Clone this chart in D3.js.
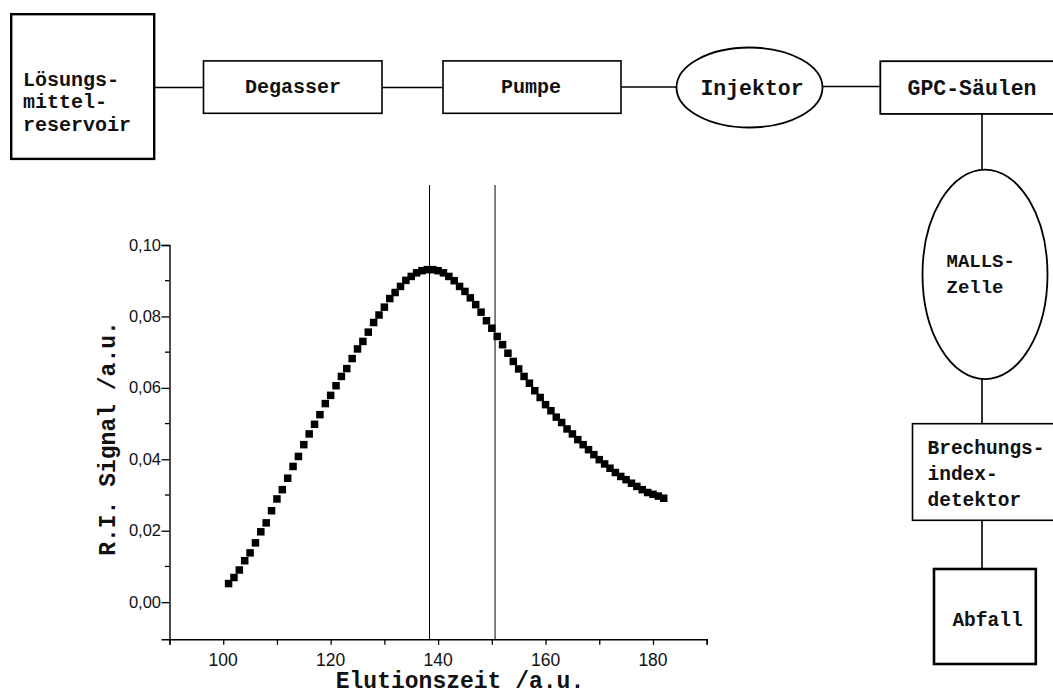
<!DOCTYPE html>
<html>
<head>
<meta charset="utf-8">
<script src="https://cdn.jsdelivr.net/npm/d3@7/dist/d3.min.js"></script>
<style>
  html, body { margin: 0; padding: 0; background: #fff; }
  svg { display: block; }
</style>
</head>
<body>
<svg id="chart" width="1053" height="697"></svg>
<script>
// ---------- data ----------
const elutionTime = [101,102,103,104,105,106,107,108,109,110,111,112,113,114,115,116,117,118,119,120,
  121,122,123,124,125,126,127,128,129,130,131,132,133,134,135,136,137,138,139,140,
  141,142,143,144,145,146,147,148,149,150,151,152,153,154,155,156,157,158,159,160,
  161,162,163,164,165,166,167,168,169,170,171,172,173,174,175,176,177,178,179,180,181,182];
const riSignal = [0.0052,0.0069,0.0090,0.0116,0.0138,0.0166,0.0197,0.0222,0.0256,0.0289,
  0.0315,0.0347,0.0380,0.0408,0.0441,0.0471,0.0498,0.0525,0.0556,0.0579,
  0.0606,0.0632,0.0654,0.0682,0.0709,0.0730,0.0756,0.0783,0.0804,0.0826,
  0.0850,0.0867,0.0884,0.0901,0.0912,0.0922,0.0928,0.0931,0.0931,0.0928,
  0.0922,0.0912,0.0900,0.0884,0.0870,0.0852,0.0833,0.0812,0.0788,0.0767,
  0.0744,0.0721,0.0697,0.0674,0.0653,0.0632,0.0613,0.0592,0.0573,0.0553,
  0.0536,0.0518,0.0503,0.0485,0.0471,0.0455,0.0441,0.0427,0.0413,0.0399,
  0.0387,0.0375,0.0363,0.0352,0.0343,0.0333,0.0324,0.0315,0.0307,0.0302,0.0297,0.0291];
const markerLines = [138.4, 150.6];
const xTickValues = [100, 120, 140, 160, 180];
const yTickValues = [0.00, 0.02, 0.04, 0.06, 0.08, 0.10];
const yMinorValues = [0.01, 0.03, 0.05, 0.07, 0.09];
const xTitle = "Elutionszeit /a.u.";
const yTitle = "R.I. Signal /a.u.";

// flow diagram labels
const reservoirLines = ["Lösungs-", "mittel-", "reservoir"];
const degasserLabel = "Degasser";
const pumpeLabel = "Pumpe";
const injektorLabel = "Injektor";
const gpcLabel = "GPC-Säulen";
const mallsLines = ["MALLS-", "Zelle"];
const brechungLines = ["Brechungs-", "index-", "detektor"];
const abfallLabel = "Abfall";

// ---------- setup ----------
const svg = d3.select("#chart");
const MONO = "'Liberation Mono', 'Courier New', monospace";
const SANS = "'Liberation Sans', Arial, sans-serif";

const x = d3.scaleLinear().domain([90, 190]).range([169.5, 706.7]);
const y = d3.scaleLinear().domain([-0.0104, 0.10]).range([639.3, 245]);

// ---------- flow diagram ----------
const dg = svg.append("g").attr("fill", "none").attr("stroke", "#000");
function line(x1, y1, x2, y2, w) {
  dg.append("line").attr("x1", x1).attr("y1", y1).attr("x2", x2).attr("y2", y2)
    .attr("stroke-width", w || 1.6);
}
function rect(x0, y0, x1, y1, w) {
  dg.append("rect").attr("x", x0).attr("y", y0).attr("width", x1 - x0).attr("height", y1 - y0)
    .attr("stroke-width", w || 1.6).attr("fill", "#fff");
}
function ellipse(cx, cy, rx, ry, w) {
  dg.append("ellipse").attr("cx", cx).attr("cy", cy).attr("rx", rx).attr("ry", ry)
    .attr("stroke-width", w || 1.6).attr("fill", "#fff");
}
const tg = svg.append("g").attr("font-family", MONO).attr("font-weight", "bold").attr("fill", "#111");
function text(t, tx, ty, size, anchor) {
  tg.append("text").attr("x", tx).attr("y", ty).attr("font-size", size)
    .attr("text-anchor", anchor || "middle").text(t);
}

// connectors
line(154, 87.5, 203.5, 87.5);
line(382, 87.5, 443, 87.5);
line(621, 87, 676.5, 87);
line(822.5, 86.5, 880.3, 86.5);
line(982, 114, 982, 170);
line(982, 379, 982, 424);
line(982, 520, 982, 569);

rect(11.2, 14.2, 154.2, 158.9, 2.4);
reservoirLines.forEach((t, i) => text(t, 23, 85.5 + i * 22.5, 20, "start"));

rect(203.5, 60.9, 382, 113.3, 1.6);
text(degasserLabel, 293, 93, 20);

rect(443, 60.9, 621, 113.3, 1.6);
text(pumpeLabel, 531, 93, 20);

ellipse(749.5, 87.5, 73, 40, 1.8);
text(injektorLabel, 752, 94.5, 21.5);

rect(880.3, 61.2, 1066, 113.9, 1.8);
text(gpcLabel, 972, 95, 21.5);

ellipse(985, 274.4, 62.5, 104.8, 1.8);
mallsLines.forEach((t, i) => text(t, 946.5, 266.8 + i * 26.5, 19, "start"));

rect(912.5, 423.7, 1066, 520.3, 1.6);
brechungLines.forEach((t, i) => text(t, 927.5, 453.8 + i * 26, 19.5, "start"));

rect(934, 569, 1035.8, 664, 2.6);
text(abfallLabel, 987.5, 626, 19.5);

// ---------- chart ----------
const cg = svg.append("g");

// vertical marker lines
cg.selectAll("line.marker").data(markerLines).enter().append("line")
  .attr("class", "marker")
  .attr("x1", d => x(d)).attr("x2", d => x(d))
  .attr("y1", y(0.1168)).attr("y2", y(-0.0104))
  .attr("stroke", "#000").attr("stroke-width", 1);

// x axis
const xAxisG = cg.append("g").attr("transform", `translate(0,${y(-0.0104)})`);
xAxisG.call(d3.axisBottom(x).tickValues(d3.range(90, 191, 10)).tickSize(5.5).tickFormat(""));
xAxisG.select(".domain").attr("stroke", "#000").attr("stroke-width", 1.4);
xAxisG.selectAll(".tick line").attr("stroke", "#000").attr("stroke-width", 1.3);
cg.append("g").selectAll("text").data(xTickValues).enter().append("text")
  .attr("x", d => x(d)).attr("y", 665.5)
  .attr("text-anchor", "middle").attr("font-family", SANS).attr("font-size", 17.5)
  .attr("fill", "#111")
  .text(d => d);

// y axis
const yAxisG = cg.append("g").attr("transform", `translate(${x(90)},0)`);
yAxisG.call(d3.axisLeft(y).tickValues(yTickValues).tickSize(8).tickFormat(""));
yAxisG.select(".domain").attr("stroke", "#000").attr("stroke-width", 1.4);
yAxisG.selectAll(".tick line").attr("stroke", "#000").attr("stroke-width", 1.3);
yAxisG.selectAll("line.minor").data(yMinorValues).enter().append("line")
  .attr("class", "minor").attr("x1", -4.5).attr("x2", 0)
  .attr("y1", d => y(d)).attr("y2", d => y(d))
  .attr("stroke", "#000").attr("stroke-width", 1.3);
yAxisG.selectAll("text.lab").data(yTickValues).enter().append("text")
  .attr("class", "lab")
  .attr("x", -8.5).attr("y", d => y(d) + 5.5)
  .attr("text-anchor", "end").attr("font-family", SANS).attr("font-size", 16.5)
  .attr("fill", "#111")
  .text(d => d3.format(".2f")(d).replace(".", ","));

// axis titles
cg.append("text").attr("x", 460).attr("y", 688)
  .attr("text-anchor", "middle").attr("font-family", MONO).attr("font-weight", "bold")
  .attr("font-size", 23).attr("fill", "#111").text(xTitle);
cg.append("text").attr("transform", `translate(115,438.5) rotate(-90)`)
  .attr("text-anchor", "middle").attr("font-family", MONO).attr("font-weight", "bold")
  .attr("font-size", 23).attr("fill", "#111").text(yTitle);

// data squares
const pts = elutionTime.map((t, i) => ({ t, v: riSignal[i] }));
const S = 7.5;
cg.selectAll("rect.pt").data(pts).enter().append("rect")
  .attr("class", "pt")
  .attr("x", d => x(d.t) - S / 2).attr("y", d => y(d.v) - S / 2)
  .attr("width", S).attr("height", S).attr("fill", "#000");
</script>
</body>
</html>
